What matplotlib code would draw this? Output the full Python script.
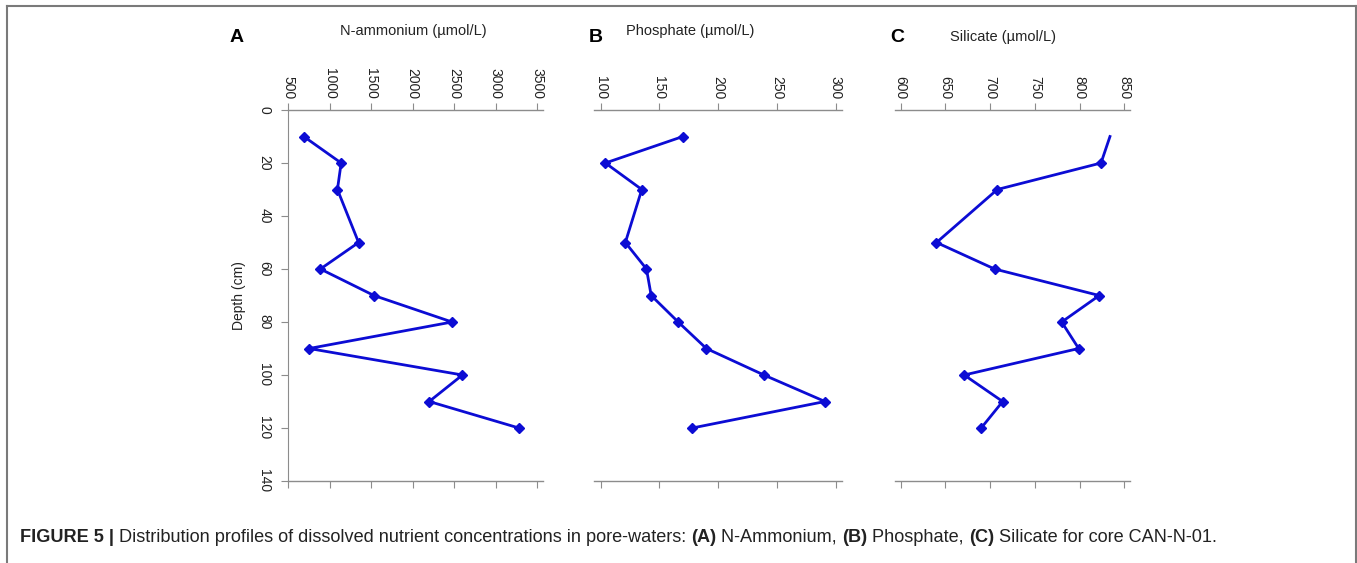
import matplotlib
matplotlib.use("Agg")
import matplotlib.pyplot as plt
from matplotlib.lines import Line2D

plt.rcParams["font.family"] = ["Liberation Sans", "DejaVu Sans"]

depth = [10, 20, 30, 50, 60, 70, 80, 90, 100, 110, 120]
ammonium = [690, 1140, 1095, 1350, 890, 1535, 2475, 755, 2600, 2200, 3280]
phosphate = [170, 104, 135, 121, 139, 143, 166, 190, 239, 291, 178]
silicate = [834, 824, 708, 640, 705, 822, 780, 799, 671, 714, 690]

amm_ticks = [500, 1000, 1500, 2000, 2500, 3000, 3500]
pho_ticks = [100, 150, 200, 250, 300]
sil_ticks = [600, 650, 700, 750, 800, 850]
depth_ticks = [0, 20, 40, 60, 80, 100, 120, 140]

W, H = 1357, 563
fig = plt.figure(figsize=(W / 100, H / 100), dpi=100)

blue = "#0c0cd4"
grey = "#8c8c8c"
txt = "#222222"


def px_axes(x0, x1, y0=110, y1=481):
    return fig.add_axes([x0 / W, 1 - y1 / H, (x1 - x0) / W, (y1 - y0) / H])


def panel(ax, values, ticks, xlim, title, tx, letter, lx, ty=31, show_depth=False, mk=None):
    ax.plot(values, depth, color=blue, lw=2, marker="D", ms=5, markevery=mk)
    ax.set_xlim(*xlim)
    ax.set_ylim(140, 0)
    ax.set_xticks(ticks)
    ax.xaxis.set_ticks_position("both")
    ax.tick_params(axis="x", which="both", direction="out", length=5, color=grey,
                   labeltop=True, labelbottom=False, labelsize=10, labelcolor=txt,
                   labelrotation=-90, pad=3)
    for s in ["top", "bottom"]:
        ax.spines[s].set_color(grey)
        ax.spines[s].set_linewidth(1)
    ax.spines["right"].set_visible(False)
    if show_depth:
        ax.spines["left"].set_color(grey)
        ax.set_yticks(depth_ticks)
        ax.tick_params(axis="y", length=5, color=grey, labelsize=10, labelcolor=txt, pad=7)
        for lab in ax.get_yticklabels():
            lab.set_rotation(-90)
            lab.set_va("center")
        ax.set_ylabel("Depth (cm)", fontsize=10, color=txt, labelpad=8)
    else:
        ax.spines["left"].set_visible(False)
        ax.set_yticks([])
    ax.patch.set_alpha(0)
    fig.text(tx / W, 1 - ty / H, title, ha="center", va="center", fontsize=10.5, color=txt)
    fig.text(lx / W, 1 - 37 / H, letter, ha="center", va="center", fontsize=14,
             fontweight="bold", color="black")


axA = px_axes(288, 543)
panel(axA, ammonium, amm_ticks, (500, 3570), "N-ammonium (µmol/L)", 413, "A", 237,
      show_depth=True)

axB = px_axes(594, 842)
panel(axB, phosphate, pho_ticks, (94.3, 305.5), "Phosphate (µmol/L)", 690, "B", 596)

axC = px_axes(895, 1130)
panel(axC, silicate, sil_ticks, (593.6, 856.4), "Silicate (µmol/L)", 1003, "C", 897,
      ty=37, mk=list(range(1, len(depth))))

# frame around the figure
bc = "#7a7a7a"
fig.add_artist(Line2D([7 / W, 7 / W], [0, 1 - 6 / H], color=bc, lw=1.5))
fig.add_artist(Line2D([7 / W, 1356 / W], [1 - 6 / H, 1 - 6 / H], color=bc, lw=1.5))
fig.add_artist(Line2D([1355.5 / W, 1355.5 / W], [0, 1 - 6 / H], color=bc, lw=1.5))

# caption
cy = 1 - 537 / H
parts = [
    ("FIGURE 5 | ", "bold"),
    ("Distribution profiles of dissolved nutrient concentrations in pore-waters: ", "normal"),
    ("(A)", "bold"), (" N-Ammonium, ", "normal"),
    ("(B)", "bold"), (" Phosphate, ", "normal"),
    ("(C)", "bold"), (" Silicate for core CAN-N-01.", "normal"),
]
fig.canvas.draw()
r = fig.canvas.get_renderer()
x = 20
for s, w in parts:
    t = fig.text(x / W, cy, s, fontsize=13.1, fontweight=w, color="#222222",
                 ha="left", va="center")
    x += t.get_window_extent(renderer=r).width

fig.savefig("out.png", dpi=100)
